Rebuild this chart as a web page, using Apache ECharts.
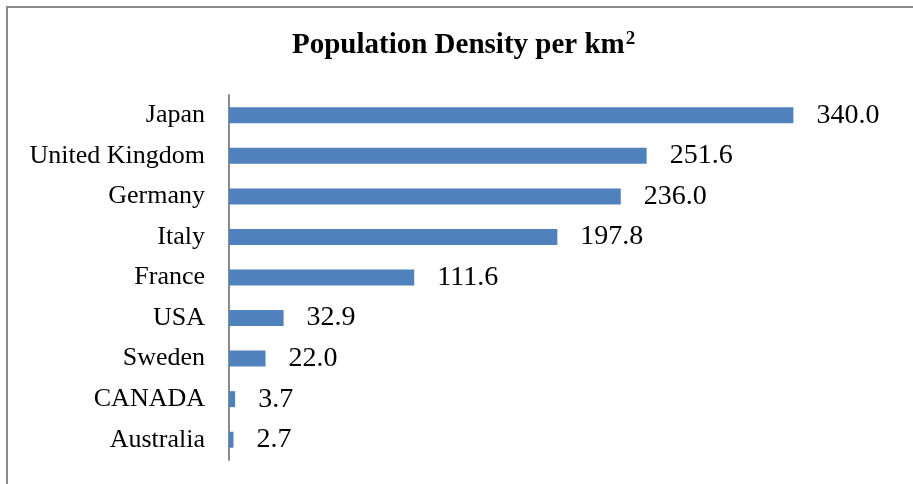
<!DOCTYPE html>
<html>
<head>
<meta charset="utf-8">
<style>
  html, body { margin: 0; padding: 0; background: #ffffff; }
  #chart { width: 913px; height: 484px; }
</style>
<script src="https://cdn.jsdelivr.net/npm/echarts@6/dist/echarts.min.js"></script>
</head>
<body>
<div id="chart"></div>
<script>
// Countries listed bottom-to-top (category axis is drawn upward)
const countries = ['Australia', 'CANADA', 'Sweden', 'USA', 'France', 'Italy', 'Germany', 'United Kingdom', 'Japan'];
// Inhabitants per square kilometre
const density = [2.7, 3.7, 22.0, 32.9, 111.6, 197.8, 236.0, 251.6, 340.0];

const serif = '"Liberation Serif", "Times New Roman", serif';

const chart = echarts.init(document.getElementById('chart'), null, { renderer: 'canvas' });

chart.setOption({
  backgroundColor: '#ffffff',
  animation: false,
  title: {
    text: 'Population Density per km{sup|2}',
    left: 292,
    top: 30,
    padding: 0,
    textStyle: {
      fontFamily: serif, fontWeight: 'bold', fontSize: 29, color: '#000000',
      rich: {
        sup: {
          fontFamily: serif, fontWeight: 'bold', fontSize: 19, color: '#000000',
          verticalAlign: 'top', padding: [0, 0, 12, 1]
        }
      }
    }
  },
  graphic: [{
    type: 'rect',
    silent: true,
    shape: { x: 7, y: 7, width: 1000, height: 1000 },
    style: { fill: 'none', stroke: '#8a8a8a', lineWidth: 2 }
  }],
  grid: { left: 229, right: 20, top: 95, bottom: 24, containLabel: false },
  xAxis: {
    type: 'value',
    min: 0,
    max: 400,
    show: false
  },
  yAxis: {
    type: 'category',
    data: countries,
    axisLine: { show: true, lineStyle: { color: '#8a8a8a', width: 2 } },
    axisTick: { show: false },
    axisLabel: { fontFamily: serif, fontSize: 26, color: '#000000', margin: 24, padding: [3, 0, 0, 0] }
  },
  series: [{
    type: 'bar',
    data: density,
    barWidth: 16,
    itemStyle: { color: '#4F81BD' },
    label: {
      show: true,
      position: 'right',
      distance: 23,
      padding: [4, 0, 0, 0],
      formatter: p => p.value.toFixed(1),
      fontFamily: serif,
      fontSize: 28,
      color: '#000000'
    }
  }]
});
</script>
</body>
</html>
